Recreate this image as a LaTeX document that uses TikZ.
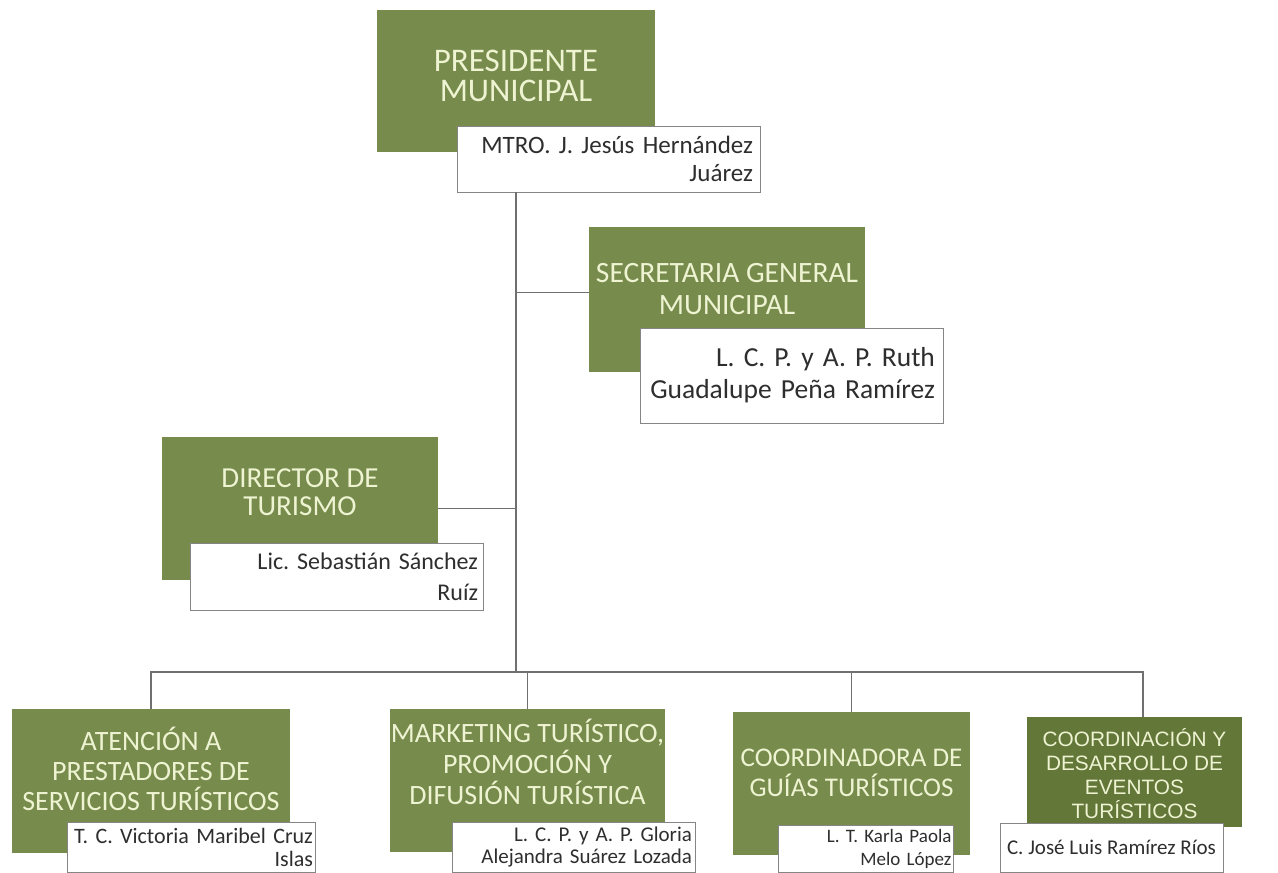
\documentclass[tikz,border=0pt]{standalone}
\usepackage{fontspec}
\setmainfont{Carlito}
\newfontfamily\arialfont{Liberation Sans}
\usepackage{tikz}
\usetikzlibrary{positioning}
\definecolor{boxgreen}{HTML}{778C4C}
\definecolor{darkgreen}{HTML}{637739}
\definecolor{titletext}{HTML}{EEF3D2}
\definecolor{nametext}{HTML}{2E2E2E}
\definecolor{framegray}{HTML}{858585}
\definecolor{linkgray}{HTML}{707070}
\newcommand{\fsz}[2]{\fontsize{#1}{#2}\selectfont\lineskiplimit=-100pt\frenchspacing}
\tikzset{
    unit/.style={fill=boxgreen, inner sep=0pt},
    title/.style={text=titletext, align=center, inner sep=0pt},
    holder/.style={draw=framegray, fill=white, line width=0.9pt, inner ysep=0pt, text=nametext},
    link/.style={draw=linkgray, line width=1.3pt}
}

\begin{document}
\begin{tikzpicture}[x=1pt,y=-1pt]
    \fill[white] (0,0) rectangle (1278,873);
    \useasboundingbox (0,0) rectangle (1278,873);
    \node[unit, minimum width=278pt, minimum height=142pt] at (516,81) (pres) {};
    \node[unit, minimum width=276pt, minimum height=145pt] at (727,299.5) (sec) {};
    \node[unit, minimum width=276pt, minimum height=143pt] at (300,508.5) (dir) {};
    \node[unit, minimum width=278pt, minimum height=144pt] at (151,781) (atn) {};
    \node[unit, minimum width=275pt, minimum height=143pt] at (527.5,780.5) (mkt) {};
    \node[unit, minimum width=237pt, minimum height=143pt] at (851.5,783.5) (gui) {};
    \node[unit, fill=darkgreen, minimum width=215pt, minimum height=110pt] at (1134.5,772) (evt) {};
    \node[title, font=\fsz{33}{30}] at (516,76) (pres t) {PRESIDENTE\\MUNICIPAL};
    \node[title, font=\fsz{29.5}{32}] at (727,289) (sec t) {SECRETARIA GENERAL\\MUNICIPAL};
    \node[title, font=\fsz{29}{28}] at (300,492) (dir t) {DIRECTOR DE\\TURISMO};
    \node[title, font=\fsz{28}{30}] at (151,769) (atn t) {ATENCIÓN A\\PRESTADORES DE\\SERVICIOS TURÍSTICOS};
    \node[title, font=\fsz{28}{31}] at (527.5,762) (mkt t) {MARKETING TURÍSTICO,\\PROMOCIÓN Y\\DIFUSIÓN TURÍSTICA};
    \node[title, font=\fsz{27}{30}] at (851.5,773) (gui t) {COORDINADORA DE\\GUÍAS TURÍSTICOS};
    \node[title, font={\arialfont\fsz{20.8}{24}}] at (1134.5,773.5) (evt t) {COORDINACIÓN Y\\DESARROLLO DE\\EVENTOS\\TURÍSTICOS};
    \node[holder, minimum width=303pt, minimum height=66pt, inner xsep=7pt, text width=289pt, align=right, font=\fsz{25}{28}] at (608.5,159) (presn) {MTRO. J. Jesús Hernández\\Juárez};
    \node[holder, minimum width=303pt, minimum height=95pt, inner xsep=8pt, text width=287pt, align=right, font=\fsz{27.5}{32}] at (791.5,375.5) (secn) {L. C. P. y A. P. Ruth\\Guadalupe Peña Ramírez};
    \node[holder, minimum width=293pt, minimum height=67pt, inner xsep=5pt, text width=283pt, align=right, font=\fsz{24}{31}] at (336.5,576.5) (dirn) {Lic. Sebastián Sánchez\\Ruíz};
    \node[holder, minimum width=248pt, minimum height=50pt, inner xsep=2pt, text width=244pt, align=right, font=\fsz{22}{23}] at (191,847) (atnn) {T. C. Victoria Maribel Cruz\\Islas};
    \node[holder, minimum width=243pt, minimum height=50pt, inner xsep=3pt, text width=237pt, align=right, font=\fsz{21}{22}] at (573.5,847) (mktn) {L. C. P. y A. P. Gloria\\Alejandra Suárez Lozada};
    \node[holder, minimum width=175pt, minimum height=47pt, inner xsep=1.5pt, text width=172pt, align=right, font=\fsz{19}{23}] at (865.5,848.5) (guin) {L. T. Karla Paola\\Melo López};
    \node[holder, minimum width=223pt, minimum height=49pt, inner xsep=3pt, align=center, font=\fsz{21}{24}] at (1111.5,847.5) (evtn) {C. José Luis Ramírez Ríos};
    \coordinate (hub) at (516,672);
    \coordinate (drop) at (1143,672);
    \draw[link] (pres.south |- presn.south) -- (hub);
    \draw[link] (sec.177) -- (sec.177 -| hub);
    \draw[link] (dir.east) -- (dir.east -| hub);
    \draw[link] (atn.north) |- (drop) -- (drop |- evt.north);
    \draw[link] (mkt.north) -- (mkt.north |- hub);
    \draw[link] (gui.north) -- (gui.north |- hub);
\end{tikzpicture}
\end{document}
